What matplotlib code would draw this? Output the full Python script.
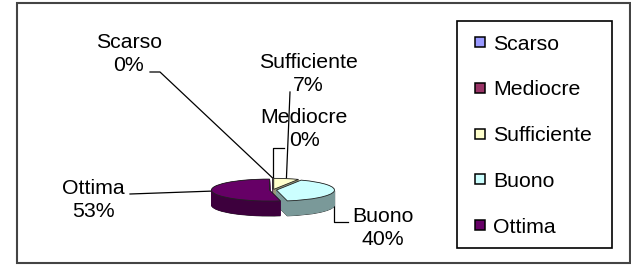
import numpy as np
import matplotlib
matplotlib.use("Agg")
import matplotlib.pyplot as plt
from matplotlib.lines import Line2D
from matplotlib.patches import Rectangle
from matplotlib.colors import to_rgb

categories = ['Scarso', 'Mediocre', 'Sufficiente', 'Buono', 'Ottima']
values = [0, 0, 7, 40, 53]
pct_labels = ['0%', '0%', '7%', '40%', '53%']
colors = ['#9999FF', '#993366', '#FFFFCC', '#CCFFFF', '#660066']

W, H = 631, 265
plt.rcParams['font.family'] = ['Liberation Sans', 'DejaVu Sans']
FS = 15.3

fig = plt.figure(figsize=(W / 100, H / 100), dpi=100)

# overlay in pixel coords (y down) for frames, labels, leader lines
ov = fig.add_axes([0, 0, 1, 1])
ov.set_xlim(0, W)
ov.set_ylim(H, 0)
ov.axis('off')

# flattened 3d pie, pixel geometry
cx, cy, rx, ry, depth = 273, 190, 58, 11, 15
box_w, box_h = 220, 110
pax = fig.add_axes([(cx - box_w / 2) / W, 1 - (cy + box_h / 2) / H, box_w / W, box_h / H])
pax.patch.set_alpha(0)

explode = [0.06] * len(values)
side = [tuple(0.6 * v for v in to_rgb(c)) for c in colors]
n_layers = 30
dz = depth / ry
for k in range(n_layers + 1):
    z = -dz + dz * k / n_layers
    if k == n_layers:
        wedges, _ = pax.pie(values, colors=colors, explode=explode, startangle=90,
                            counterclock=False, center=(0, z),
                            wedgeprops=dict(linewidth=0.6, edgecolor='#222222'))
        top_wedges = wedges
    else:
        wedges, _ = pax.pie(values, colors=side, explode=explode, startangle=90,
                            counterclock=False, center=(0, z),
                            wedgeprops=dict(linewidth=0.8))
        for w, c in zip(wedges, side):
            w.set_edgecolor('#222222' if k == 0 else c)
            if k == 0:
                w.set_linewidth(0.6)

pax.set_aspect('auto')
pax.set_xlim(-box_w / 2 / rx, box_w / 2 / rx)
pax.set_ylim(-box_h / 2 / ry, box_h / 2 / ry)
pax.axis('off')

# data labels with leader lines
label_xy = [(129, 54), (304, 129), (308, 74), (383, 228), (93, 200)]
leader_pts = [[(150, 72), (160, 72)], [(284, 148)], [(290, 92)], [(348, 222)], [(130, 194)]]
leader_elbow = [False, True, False, True, False]

to_px = ov.transData.inverted()
for i, w in enumerate(top_wedges):
    mid = np.deg2rad((w.theta1 + w.theta2) / 2)
    pt = (w.center[0] + w.r * np.cos(mid), w.center[1] + w.r * np.sin(mid))
    axp, ayp = to_px.transform(pax.transData.transform(pt))
    pts = list(leader_pts[i])
    if leader_elbow[i]:
        pts.append((axp, pts[-1][1]))
    pts.append((axp, ayp))
    xs, ys = zip(*pts)
    ov.plot(xs, ys, color='black', lw=0.9)
    ov.text(label_xy[i][0], label_xy[i][1], f"{categories[i]}\n{pct_labels[i]}",
            ha='center', va='center', fontsize=FS, linespacing=1.25)

# legend
handles = [Line2D([], [], ls='', marker='s', markersize=6.5, markerfacecolor=c,
                  markeredgecolor='black', markeredgewidth=1.1) for c in colors]
fig.legend(handles, categories, loc='upper left', bbox_to_anchor=(469 / W, 1 - 34.5 / H),
           frameon=False, borderpad=0, borderaxespad=0, handlelength=1.0,
           handletextpad=0.15, labelspacing=1.26, fontsize=FS)
ov.add_patch(Rectangle((457, 21), 155, 227, fill=False, edgecolor='black', lw=1.2))

# chart area border
ov.add_patch(Rectangle((17, 3), 613, 260, fill=False, edgecolor='#444444', lw=1.5))

fig.savefig('out.png', dpi=100)
